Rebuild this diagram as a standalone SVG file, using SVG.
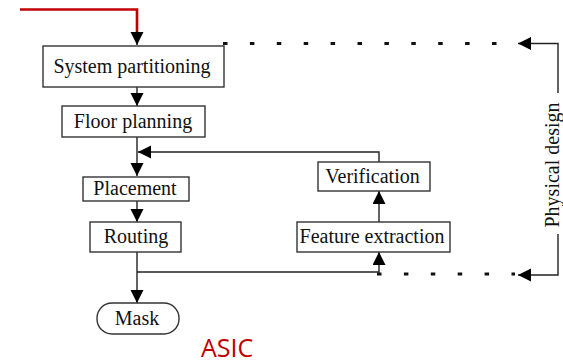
<svg xmlns="http://www.w3.org/2000/svg" width="563" height="363" viewBox="0 0 563 363">
<style>
.box{fill:#fff;stroke:#333;stroke-width:1.4}
.lbl{font-family:"Liberation Serif","Times New Roman",serif;font-size:20px;fill:#111;text-anchor:middle}
.ln{fill:none;stroke:#222;stroke-width:1.4}
.dot{fill:none;stroke:#111;stroke-width:3;stroke-dasharray:4.5 22.4}
</style>
<defs>
<marker id="ah" markerUnits="userSpaceOnUse" markerWidth="14" markerHeight="14" refX="13" refY="6.5" orient="auto">
<path d="M0,0 L13,6.5 L0,13 z" fill="#000"/>
</marker>
</defs>
<rect width="563" height="363" fill="#fff"/>
<g id="connectors">
<path d="M20,9.5 H137 V32" fill="none" stroke="#c00000" stroke-width="2.6"/>
<path d="M137,31 V45" class="ln" marker-end="url(#ah)"/>
<path d="M137,87 V106" class="ln" marker-end="url(#ah)"/>
<path d="M137,137 V176" class="ln" marker-end="url(#ah)"/>
<path d="M379,162 V152 H138" class="ln" marker-end="url(#ah)"/>
<path d="M137,201 V222" class="ln" marker-end="url(#ah)"/>
<path d="M137,252 V303" class="ln" marker-end="url(#ah)"/>
<path d="M137,272 H379 V252" class="ln" marker-end="url(#ah)"/>
<path d="M379,222 V191" class="ln" marker-end="url(#ah)"/>
<path d="M223,43.5 H500" class="dot"/>
<path d="M558,93 V43.5 H518" class="ln" marker-end="url(#ah)"/>
<path d="M376,274 H515" class="dot" stroke-dashoffset="-1"/>
<path d="M558,234 V275 H518" class="ln" marker-end="url(#ah)"/>
</g>
<g id="sys">
<rect x="43" y="46" width="181" height="41" class="box"/>
<text x="132" y="73" class="lbl">System partitioning</text>
</g>
<g id="floor">
<rect x="62" y="106" width="143" height="31" class="box"/>
<text x="133" y="128" class="lbl">Floor planning</text>
</g>
<g id="placement">
<rect x="83" y="177" width="106" height="24" class="box"/>
<text x="135" y="195" class="lbl">Placement</text>
</g>
<g id="routing">
<rect x="90" y="222" width="91" height="30" class="box"/>
<text x="136" y="243" class="lbl">Routing</text>
</g>
<g id="mask">
<rect x="97" y="303" width="82" height="31" rx="15" class="box"/>
<text x="137" y="325" class="lbl">Mask</text>
</g>
<g id="verification">
<rect x="318" y="162" width="112" height="29" class="box"/>
<text x="372.5" y="183" class="lbl">Verification</text>
</g>
<g id="feature">
<rect x="297" y="222" width="153" height="30" class="box"/>
<text x="372" y="243" class="lbl">Feature extraction</text>
</g>
<g id="physical">
<text transform="translate(559,165) rotate(-90)" class="lbl">Physical design</text>
</g>
<g id="asic">
<text x="201" y="357" font-family="'Open Sans','Noto Sans',sans-serif" font-size="25" fill="#c00000">ASIC</text>
</g>
</svg>
